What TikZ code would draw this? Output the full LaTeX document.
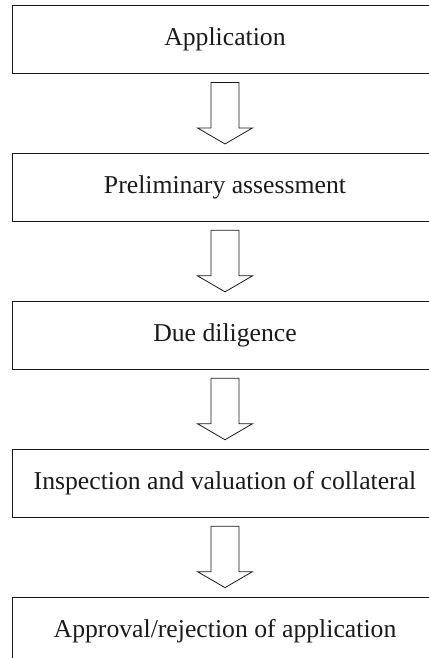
\documentclass[tikz,border=0pt]{standalone}
\usepackage{fontspec}
\setmainfont{Liberation Serif}
\usepackage{xcolor}
\usetikzlibrary{positioning,calc}
\definecolor{flowInk}{HTML}{1A1A1A}
\tikzset{
  stagebox/.style={
    rectangle,
    draw=flowInk,
    line width=0.9pt,
    minimum width=426bp,
    minimum height=68bp,
    inner sep=0pt,
    align=center,
    text=flowInk,
    font=\fontsize{25.8}{30}\selectfont
  },
  hollowarrow/.style={
    draw=flowInk,
    line width=0.8pt,
    line join=miter,
    fill=white
  }
}
% block arrow from the bottom of #1 to the top of #2
\newcommand{\stagearrow}[2]{%
  \path ($(#1.south)+(0,8.5)$) coordinate (#1-top)
        ($(#2.north)+(0,-9)$) coordinate (#1-tip);
  \draw[hollowarrow] ($(#1-top)+(-14,0)$) -- ($(#1-tip)+(-14,-16)$)
    -- ($(#1-tip)+(-27.5,-16)$) -- (#1-tip) -- ($(#1-tip)+(27.5,-16)$)
    -- ($(#1-tip)+(14,-16)$) -- ($(#1-top)+(14,0)$) -- cycle;}

\begin{document}
\begin{tikzpicture}[x=1bp,y=-1bp,node distance=79bp]
  \useasboundingbox (0,0) rectangle (428,658);
  \node[stagebox] (application) at (225,39.5) {Application};
  \node[stagebox,below=of application] (preliminary) {Preliminary assessment};
  \node[stagebox,below=of preliminary] (diligence) {Due diligence};
  \node[stagebox,below=of diligence] (inspection) {Inspection and valuation of collateral};
  \node[stagebox,below=of inspection] (approval) {Approval/rejection of application};
  \stagearrow{application}{preliminary}
  \stagearrow{preliminary}{diligence}
  \stagearrow{diligence}{inspection}
  \stagearrow{inspection}{approval}
\end{tikzpicture}
\end{document}
